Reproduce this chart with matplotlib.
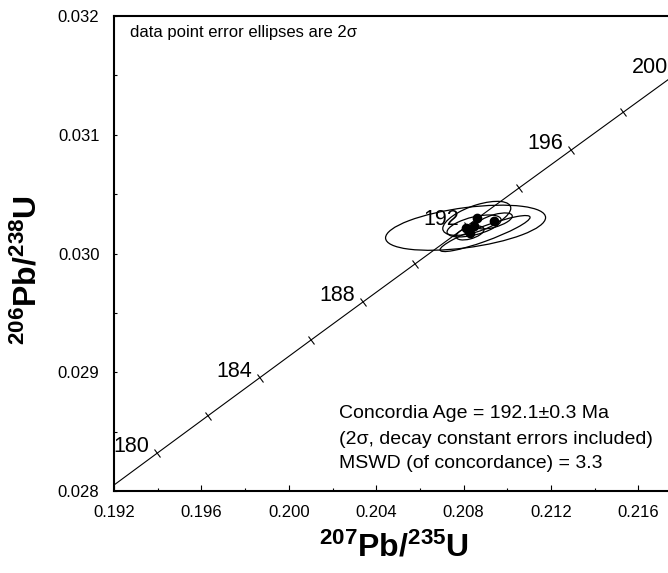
import numpy as np
import matplotlib
matplotlib.use('Agg')
import matplotlib.pyplot as plt
from matplotlib.path import Path
from matplotlib.patches import PathPatch
from matplotlib.markers import MarkerStyle
from matplotlib.transforms import Affine2D

plt.rcParams['font.family'] = ['Liberation Sans', 'DejaVu Sans']
plt.rcParams['mathtext.fontset'] = 'custom'
plt.rcParams['mathtext.rm'] = 'Liberation Sans'
plt.rcParams['mathtext.bf'] = 'Liberation Sans:bold'

# concordia curve, ages in Ma with 207Pb/235U and 206Pb/238U
conc_age = [178, 180, 182, 184, 186, 188, 190, 192, 194, 196, 198, 200, 202]
conc_x = [0.191607, 0.193957, 0.196311, 0.198670, 0.201033, 0.203401, 0.205774,
          0.208151, 0.210533, 0.212920, 0.215312, 0.217708, 0.220108]
conc_y = [0.027997, 0.028316, 0.028635, 0.028954, 0.029274, 0.029593, 0.029912,
          0.030232, 0.030552, 0.030871, 0.031191, 0.031511, 0.031831]
tick_ages = [180, 182, 184, 186, 188, 190, 192, 194, 196, 198, 200]
label_ages = [180, 184, 188, 192, 196, 200]

# analyses: ratios, 2 sigma errors and error correlation
spot_x = [0.208600, 0.208087, 0.208476, 0.208293, 0.209400, 0.208979]
spot_y = [0.030296, 0.030217, 0.030232, 0.030173, 0.030274, 0.030168]
spot_sx = [0.001556, 0.003661, 0.001236, 0.000641, 0.000824, 0.002059]
spot_sy = [0.0001432, 0.0001900, 0.0000926, 0.0000589, 0.0000674, 0.0001516]
spot_rho = [0.60, 0.45, 0.55, 0.50, 0.60, 0.90]
spot_dot = [True, True, True, True, True, False]

fig = plt.figure(figsize=(6.68, 5.73), dpi=100)
ax = fig.add_axes([114 / 668, 82 / 573, 554 / 668, 475 / 573])
ax.set_xlim(0.192, 0.21735)
ax.set_ylim(0.028, 0.032)

# concordia line
ax.plot(conc_x, conc_y, color='black', lw=0.8)

# age ticks across the curve
for age in tick_ages:
    i = conc_age.index(age)
    p0 = ax.transData.transform((conc_x[i - 1], conc_y[i - 1]))
    p1 = ax.transData.transform((conc_x[i + 1], conc_y[i + 1]))
    ang = np.degrees(np.arctan2(p1[1] - p0[1], p1[0] - p0[0]))
    mk = MarkerStyle('_', transform=Affine2D().rotate_deg(ang + 90))
    ax.plot(conc_x[i], conc_y[i], marker=mk, ms=7.5, mew=0.8, color='black',
            clip_on=False)

for age in label_ages:
    i = conc_age.index(age)
    ax.annotate(str(age), (conc_x[i], conc_y[i]), xytext=(-8, 1),
                textcoords='offset pixels', ha='right', va='baseline',
                fontsize=15.5, annotation_clip=False)

# error ellipses
circle = Path.unit_circle()
for x, y, sx, sy, r in zip(spot_x, spot_y, spot_sx, spot_sy, spot_rho):
    m = np.array([[sx, 0.0, x], [r * sy, sy * np.sqrt(1 - r * r), y], [0, 0, 1]])
    ax.add_patch(PathPatch(circle, transform=Affine2D(m) + ax.transData,
                           fill=False, ec='black', lw=0.9))

dx = [x for x, d in zip(spot_x, spot_dot) if d]
dy = [y for y, d in zip(spot_y, spot_dot) if d]
ax.plot(dx, dy, 'o', color='black', ms=6, zorder=5)

# axes styling
ax.spines['right'].set_visible(False)
for s in ['left', 'top', 'bottom']:
    ax.spines[s].set_linewidth(1.5)
ax.set_xticks([0.192, 0.196, 0.200, 0.204, 0.208, 0.212, 0.216])
ax.set_xticklabels(['0.192', '0.196', '0.200', '0.204', '0.208', '0.212', '0.216'])
ax.set_xticks(np.arange(0.194, 0.2175, 0.004), minor=True)
ax.set_yticks([0.028, 0.029, 0.030, 0.031, 0.032])
ax.set_yticklabels(['0.028', '0.029', '0.030', '0.031', '0.032'])
ax.set_yticks([0.0285, 0.0295, 0.0305, 0.0315], minor=True)
ax.tick_params(axis='x', which='major', direction='in', length=4, width=0.8,
               pad=10, labelsize=12)
ax.tick_params(axis='x', which='minor', direction='in', length=2, width=0.8)
ax.tick_params(axis='y', which='both', direction='in', length=2.5, width=0.8,
               pad=10.5, labelsize=12)

fig.text(394 / 668, 1 - 548 / 573, r'$\mathbf{^{207}Pb/^{235}U}$',
         ha='center', va='center', fontsize=23)
fig.text(28 / 668, 1 - 270 / 573, r'$\mathbf{^{206}Pb/^{238}U}$',
         ha='center', va='center', fontsize=23, rotation=90)

fig.text(130 / 668, 1 - 33 / 573, 'data point error ellipses are 2\u03c3',
         ha='left', va='center', fontsize=12)
fig.text(339 / 668, 1 - 414 / 573, 'Concordia Age = 192.1\u00b10.3 Ma',
         ha='left', va='center', fontsize=14)
fig.text(339 / 668, 1 - 439 / 573, '(2\u03c3, decay constant errors included)',
         ha='left', va='center', fontsize=14)
fig.text(339 / 668, 1 - 464 / 573, 'MSWD (of concordance) = 3.3',
         ha='left', va='center', fontsize=14)

fig.savefig('out.png', dpi=100)
